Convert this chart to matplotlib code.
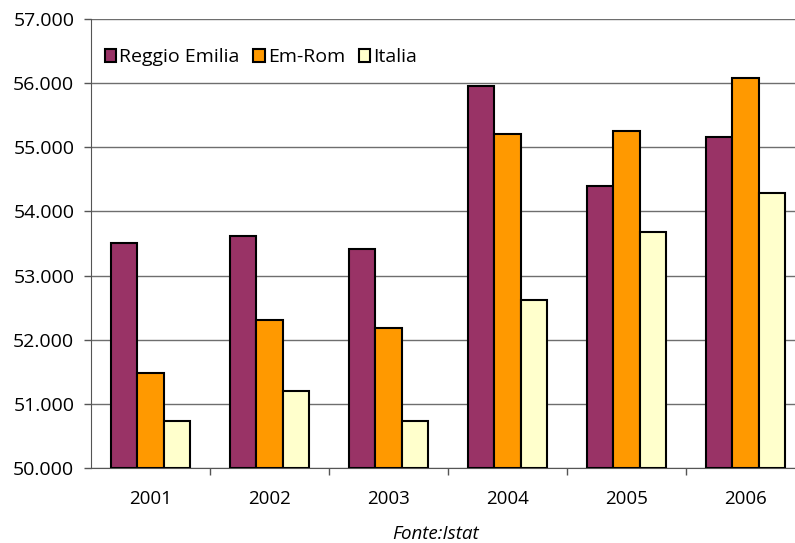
import matplotlib
matplotlib.use('Agg')
import matplotlib.pyplot as plt
import matplotlib.ticker as ticker
import numpy as np

plt.rcParams['font.family'] = ['Open Sans', 'DejaVu Sans']

anni = ['2001', '2002', '2003', '2004', '2005', '2006']
reggio_emilia = [53505, 53620, 53420, 55960, 54400, 55165]
em_rom = [51480, 52300, 52180, 55205, 55250, 56085]
italia = [50730, 51205, 50735, 52620, 53685, 54285]

serie = [('Reggio Emilia', reggio_emilia, '#993366'),
         ('Em-Rom', em_rom, '#FF9900'),
         ('Italia', italia, '#FFFFCC')]

fig = plt.figure(figsize=(7.95, 5.43), dpi=100)
ax = fig.add_axes([91 / 795, 75 / 543, 704 / 795, 449 / 543])

x = np.arange(len(anni))
w = 0.224
for i, (nome, valori, colore) in enumerate(serie):
    ax.bar(x + (i - 1) * w, np.array(valori) - 50000, width=w, bottom=50000,
           color=colore, edgecolor='black', linewidth=1.5, label=nome, zorder=3)

ax.set_ylim(50000, 57000)
ax.set_xlim(-0.5, 5.5 - 10 / 119)
ax.yaxis.set_major_locator(ticker.MultipleLocator(1000))
ax.yaxis.set_major_formatter(ticker.FuncFormatter(lambda v, p: f"{int(v):,}".replace(',', '.')))
ax.grid(axis='y', color='#6e6e6e', linewidth=1.0, zorder=0)

ax.set_xticks(x)
ax.set_xticklabels(anni)
ax.set_xticks(x[:-1] + 0.5, minor=True)
ax.tick_params(axis='x', which='major', length=0, pad=16, labelsize=13.5)
ax.tick_params(axis='x', which='minor', length=5, color='#555555', width=1)
ax.tick_params(axis='y', length=5, color='#555555', width=1, pad=7, labelsize=14)

for lato in ['top', 'right']:
    ax.spines[lato].set_visible(False)
ax.spines['left'].set_color('#555555')
ax.spines['bottom'].set_color('#555555')

ax.legend(loc='upper left', bbox_to_anchor=(0.0, 0.965), ncol=3, frameon=False,
          fontsize=14, handlelength=0.6, handleheight=0.6, handletextpad=0.15,
          columnspacing=0.7, borderaxespad=0.3)

fig.text(436 / 795, 9 / 543, 'Fonte:Istat', style='italic', fontsize=13.5,
         ha='center', va='center')

plt.savefig('out.png')
